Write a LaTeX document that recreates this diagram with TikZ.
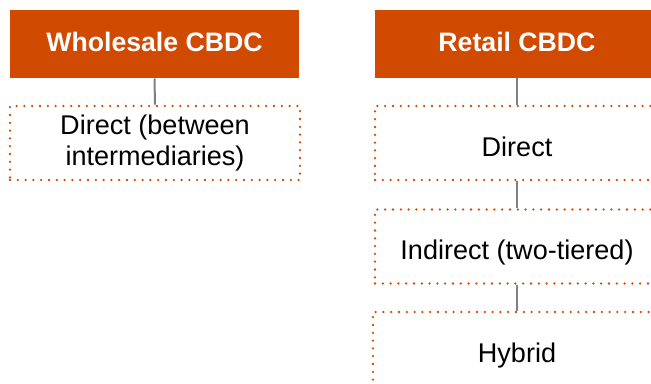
\documentclass[tikz,border=0pt]{standalone}
\usepackage{fontspec}
\setmainfont{Liberation Sans}
\definecolor{pwcorange}{RGB}{208,74,2}
\definecolor{linkgray}{RGB}{128,128,128}
\begin{document}
\begin{tikzpicture}[x=0.75pt,y=0.75pt,yscale=-1,xscale=1,
  headbox/.style={fill=pwcorange, text=white, inner sep=0pt, minimum height=51pt,
    text height=14.6pt, text depth=3pt, font=\fontsize{20}{23}\selectfont\bfseries},
  kindbox/.style={draw=pwcorange, line width=1.9pt, line cap=round,
    dash pattern=on 0pt off 5.85pt, inner sep=0pt, minimum height=55.5pt,
    align=center, font=\fontsize{20.3}{23}\selectfont},
  oneline/.style={text height=24pt, text depth=4pt},
  link/.style={draw=linkgray, line width=1.5pt}]
%set diagram area, boxes on the right run past the edge
\path [use as bounding box] (0,0) rectangle (651,383);
\clip (0,0) rectangle (651,383);

% Wholesale column
\node [headbox, minimum width=216.75pt] (wholesale) at (154.5,44) {Wholesale CBDC};
\node [kindbox, minimum width=217.5pt] (wdirect) at (155,143) {Direct (between\\intermediaries)};

% Retail column
\node [headbox, minimum width=213pt] (retail) at (517,44) {Retail CBDC};
\node [kindbox, oneline, minimum width=213pt] (rdirect) at (517,143) {Direct};
\node [kindbox, oneline, minimum width=213pt] (rindirect) at (517,246.5) {Indirect (two-tiered)};
\node [kindbox, oneline, minimum width=216pt] (rhybrid) at (517,349) {Hybrid};

% Connectors
\draw [link] (wholesale.south) -- (wdirect.north);
\draw [link] (retail.south) -- (rdirect.north);
\draw [link] (rdirect.south) -- (rindirect.north);
\draw [link] (rindirect.south) -- (rhybrid.north);

\end{tikzpicture}
\end{document}
